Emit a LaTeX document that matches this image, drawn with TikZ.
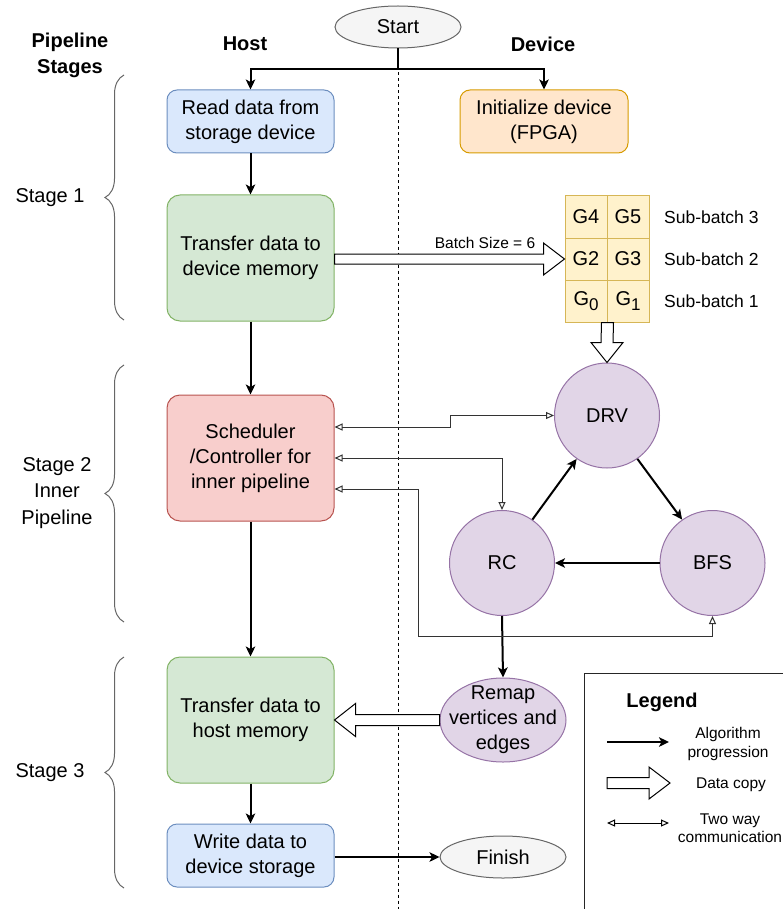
\documentclass[tikz,border=0pt]{standalone}
\usepackage{fontspec}
\setmainfont{Liberation Sans}
\usetikzlibrary{arrows.meta,shapes.geometric,calc,decorations.pathreplacing}
\definecolor{bluef}{HTML}{DAE8FC}\definecolor{blued}{HTML}{6C8EBF}
\definecolor{orangef}{HTML}{FFE6CC}\definecolor{oranged}{HTML}{D79B00}
\definecolor{greenf}{HTML}{D5E8D4}\definecolor{greend}{HTML}{82B366}
\definecolor{redf}{HTML}{F8CECC}\definecolor{redd}{HTML}{B85450}
\definecolor{yellowf}{HTML}{FFF2CC}\definecolor{yellowd}{HTML}{D6B656}
\definecolor{purplef}{HTML}{E1D5E7}\definecolor{purpled}{HTML}{9673A6}
\definecolor{grayf}{HTML}{F5F5F5}\definecolor{grayd}{HTML}{666666}
\newcommand{\mysub}[1]{\raisebox{-5pt}{\fontsize{17}{20}\selectfont #1}}
\begin{document}
\begin{tikzpicture}[x=1pt,y=-1pt,
  big/.style={font=\fontsize{20}{25}\selectfont},
  txt/.style={big, align=center, inner sep=0pt},
  box/.style={rectangle, rounded corners=10pt, draw, line width=1pt, minimum width=167pt, inner sep=0pt, align=center, big},
  bluebox/.style={box, fill=bluef, draw=blued, minimum height=63pt},
  orangebox/.style={box, fill=orangef, draw=oranged, minimum height=63pt, minimum width=168pt},
  greenbox/.style={box, fill=greenf, draw=greend, minimum height=126pt, rounded corners=13pt},
  redbox/.style={box, fill=redf, draw=redd, minimum height=126pt, rounded corners=13pt},
  cell/.style={rectangle, draw=yellowd, fill=yellowf, line width=1pt, minimum width=42pt, minimum height=42pt, inner sep=0pt, big},
  proc/.style={circle, draw=purpled, fill=purplef, line width=1pt, minimum size=105pt, inner sep=0pt, big},
  term/.style={ellipse, draw=grayd, fill=grayf, line width=1pt, minimum width=126pt, minimum height=42pt, inner sep=0pt, big},
  prog/.style={line width=2pt, -{Stealth[length=10pt,width=9.5pt,inset=2.5pt]}},
  twoway/.style={line width=1pt, draw=black!80, {Triangle[open,length=8pt,width=7pt]}-{Triangle[open,length=8pt,width=7pt]}},
  copyarrow/.style={draw=black, line width=1pt, fill=white, line join=miter},
  bracestyle/.style={draw=grayd, line width=1pt, decorate, decoration={brace, amplitude=19pt, aspect=0.5}},
  hdr/.style={font=\bfseries\fontsize{20}{26}\selectfont, align=center, inner sep=0pt},
  small/.style={font=\fontsize{15.5}{18.5}\selectfont, align=center, inner sep=0pt}
]
\useasboundingbox (0,0) rectangle (782,909);

% headers
\node[hdr] (hpipe) at (70,55) {Pipeline\\Stages};
\node[hdr] (hhost) at (245,44) {Host};
\node[hdr] (hdev) at (543,44) {Device};

% start and dashed separator
\node[term] (start) at (398,27) {Start};
\coordinate (sepend) at (398,909);
\draw[line width=1pt, dash pattern=on 3pt off 3pt] (start.south) -- (sepend);

% host boxes
\node[bluebox] (read) at (250.5,121.5) {Read data from\\storage device};
\node[orangebox] (init) at (544,121.5) {Initialize device\\(FPGA)};
\node[greenbox] (xfer) at (250.5,258) {Transfer data to\\device memory};
\node[redbox] (sched) at (250.5,458) {Scheduler\\/Controller for\\inner pipeline};
\node[greenbox] (xferh) at (250.5,720) {Transfer data to\\host memory};
\node[bluebox] (write) at (250.5,855.5) {Write data to\\device storage};
\node[term] (finish) at (503,857) {Finish};

% grid of sub-batches
\node[cell] (g4) at (586,217) {G4};
\node[cell] (g5) at (628,217) {G5};
\node[cell] (g2) at (586,259) {G2};
\node[cell] (g3) at (628,259) {G3};
\node[cell] (g0) at (586,301) {G\mysub{0}};
\node[cell] (g1) at (628,301) {G\mysub{1}};
\node[anchor=west, inner sep=0pt, font=\fontsize{17.5}{21}\selectfont] (sb3) at (664,217) {Sub-batch 3};
\node[anchor=west, inner sep=0pt, font=\fontsize{17.5}{21}\selectfont] (sb2) at (664,259) {Sub-batch 2};
\node[anchor=west, inner sep=0pt, font=\fontsize{17.5}{21}\selectfont] (sb1) at (664,301) {Sub-batch 1};

% processing circles
\node[proc] (drv) at (607,415.5) {DRV};
\node[proc] (rc) at (502,563) {RC};
\node[proc] (bfs) at (712.5,563) {BFS};
\node[ellipse, draw=purpled, fill=purplef, line width=1pt, minimum width=126pt, minimum height=84pt, inner sep=0pt] (remap) at (503,720) {};
\node[txt] (remaptxt) at (remap.center) {Remap\\vertices and\\edges};

% stage braces and labels
\draw[bracestyle] (124,320) -- (124,75);
\draw[bracestyle] (124,622) -- (124,365);
\draw[bracestyle] (124,888) -- (124,657);
\node[txt] (s1) at (50,198) {Stage 1};
\node[txt, font=\fontsize{20}{26.5}\selectfont] (s2) at (57,493) {Stage 2\\Inner\\Pipeline};
\node[txt] (s3) at (50,773) {Stage 3};

% algorithm progression
\coordinate (split) at ($(start.south)+(0,21)$);
\draw[prog] (start.south) -- (split) -| (read.north);
\draw[prog] (split) -| (init.north);
\draw[prog] (read.south) -- (xfer.north);
\draw[prog] (xfer.south) -- (sched.north);
\draw[prog] (sched.south) -- (xferh.north);
\draw[prog] (xferh.south) -- (write.north);
\draw[prog] (write.east |- finish.west) -- (finish.west);
\draw[prog] (rc.55) -- (drv.235);
\draw[prog] (drv.-55) -- (bfs.125);
\draw[prog] (bfs.west) -- (rc.east);
\draw[prog] (rc.south) -- (remap.north);

% two way communication
\coordinate (tw1a) at (450,427);
\coordinate (tw3a) at (418,489);
\coordinate (tw3b) at (418,636);
\draw[twoway] (sched.east |- tw1a) -| ($(tw1a)+(0,-11.5)$) -- (drv.west);
\draw[twoway] (sched.east) -| (rc.north);
\draw[twoway] (sched.east |- tw3a) -| (tw3b) -| (bfs.south);

% data copy: host -> device
\coordinate (b1t) at (g2.west);
\coordinate (b1s) at (xfer.east |- g2.west);
\draw[copyarrow] ($(b1s)+(0,-5)$) -- ($(b1t)+(-21,-5)$) -- ($(b1t)+(-21,-16)$) -- (b1t) -- ($(b1t)+(-21,16)$) -- ($(b1t)+(-21,5)$) -- ($(b1s)+(0,5)$) -- cycle;
\node[small, font=\fontsize{15.5}{18.5}\selectfont] (bsz) at (485,243) {Batch Size = 6};

% data copy: grid -> DRV
\coordinate (b2s) at (g0.south east);
\coordinate (b2t) at (drv.north);
\draw[copyarrow] ($(b2s)+(-6,0)$) -- ($(b2t)+(-6,-20)$) -- ($(b2t)+(-16,-20)$) -- (b2t) -- ($(b2t)+(16,-20)$) -- ($(b2t)+(6,-20)$) -- ($(b2s)+(6,0)$) -- cycle;

% data copy: remap -> host
\coordinate (b3s) at (remap.west);
\coordinate (b3t) at (xferh.east |- remap.west);
\draw[copyarrow] ($(b3s)+(0,-5.5)$) -- ($(b3t)+(21,-5.5)$) -- ($(b3t)+(21,-16.5)$) -- (b3t) -- ($(b3t)+(21,16.5)$) -- ($(b3t)+(21,5.5)$) -- ($(b3s)+(0,5.5)$) -- cycle;

% legend
\draw[line width=1pt, draw=black!85] (584,673) rectangle (800,930);
\node[hdr] (leg) at (662,702) {Legend};
\coordinate (l1s) at (607,742);
\coordinate (l1t) at (669,742);
\draw[prog] (l1s) -- (l1t);
\node[small] (l1) at (728,744) {Algorithm\\progression};
\coordinate (l2s) at (607,783);
\coordinate (l2t) at (670,783);
\draw[copyarrow] ($(l2s)+(0,-5.5)$) -- ($(l2t)+(-21,-5.5)$) -- ($(l2t)+(-21,-16)$) -- (l2t) -- ($(l2t)+(-21,16)$) -- ($(l2t)+(-21,5.5)$) -- ($(l2s)+(0,5.5)$) -- cycle;
\node[small] (l2) at (731,785) {Data copy};
\coordinate (l3s) at (607,823);
\coordinate (l3t) at (669,823);
\draw[twoway, draw=black] (l3s) -- (l3t);
\node[small] (l3) at (730,828) {Two way\\communication};
\end{tikzpicture}
\end{document}
